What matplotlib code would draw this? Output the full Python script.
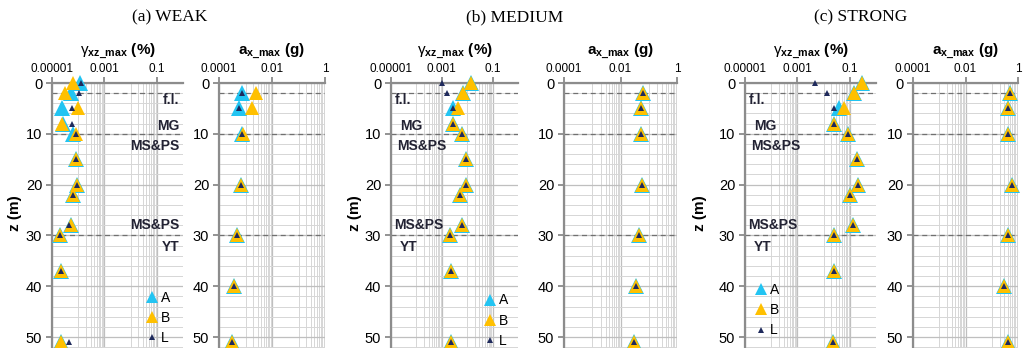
import matplotlib.pyplot as plt
import matplotlib.ticker as mticker
from matplotlib.lines import Line2D
from matplotlib.transforms import blended_transform_factory

plt.rcParams['font.family'] = ['Liberation Sans', 'DejaVu Sans']
plt.rcParams['mathtext.fontset'] = 'custom'
plt.rcParams['mathtext.rm'] = 'Liberation Sans'
plt.rcParams['mathtext.bf'] = 'Liberation Sans:bold'
plt.rcParams['mathtext.it'] = 'Liberation Sans:italic'

# depths (m)
z_strain = [0, 2, 5, 8, 10, 15, 20, 22, 28, 30, 37, 51]
z_acc = [2, 5, 10, 20, 30, 40, 51]

# max shear strain (%) - weak
weak_gA = [1.2e-4, 5.4e-5, 2.5e-5, 2.6e-5, 6.3e-5, 8.5e-5, 8.9e-5, 6.5e-5, 5.4e-5, 2.1e-5, 2.2e-5, 2.2e-5]
weak_gB = [6.2e-5, 3.0e-5, 9.8e-5, 2.5e-5, 7.9e-5, 8.5e-5, 8.9e-5, 6.5e-5, 5.4e-5, 2.1e-5, 2.2e-5, 2.2e-5]
weak_gL = [1.3e-4, 1.05e-4, 5.9e-5, 5.8e-5, 7.9e-5, 8.5e-5, 8.9e-5, 6.5e-5, 4.3e-5, 2.1e-5, 2.2e-5, 4.3e-5]
# max acceleration (g) - weak
weak_aA = [7.6e-4, 5.6e-4, 7.6e-4, 6.6e-4, 4.9e-4, 3.8e-4, 3.0e-4]
weak_aB = [2.5e-3, 1.7e-3, 8.3e-4, 6.6e-4, 4.9e-4, 3.8e-4, 3.0e-4]
weak_aL = [7.6e-4, 5.6e-4, 7.6e-4, 6.6e-4, 4.9e-4, 3.8e-4, 3.0e-4]

# medium
med_gA = [1.45e-2, 6.9e-3, 2.75e-3, 2.75e-3, 6.5e-3, 8.7e-3, 9.3e-3, 5.4e-3, 6.5e-3, 2.2e-3, 2.4e-3, 2.4e-3]
med_gB = [1.45e-2, 6.9e-3, 4.4e-3, 2.75e-3, 6.5e-3, 8.7e-3, 9.3e-3, 5.4e-3, 6.5e-3, 2.2e-3, 2.4e-3, 2.4e-3]
med_gL = [9.8e-4, 1.66e-3, 2.75e-3, 2.75e-3, 6.5e-3, 8.7e-3, 9.3e-3, 5.4e-3, 6.5e-3, 2.2e-3, 2.4e-3, 2.4e-3]
med_aA = [0.065, 0.054, 0.054, 0.056, 0.046, 0.035, 0.029]
med_aB = [0.065, 0.054, 0.054, 0.056, 0.046, 0.035, 0.029]
med_aL = [0.065, 0.054, 0.054, 0.056, 0.046, 0.035, 0.029]

# strong
str_gA = [0.30, 0.15, 0.039, 0.024, 0.089, 0.19, 0.20, 0.10, 0.135, 0.025, 0.025, 0.023]
str_gB = [0.30, 0.15, 0.060, 0.025, 0.089, 0.19, 0.20, 0.10, 0.135, 0.025, 0.025, 0.023]
str_gL = [0.0047, 0.0138, 0.025, 0.025, 0.089, 0.19, 0.20, 0.10, 0.135, 0.025, 0.025, 0.023]
str_aA = [0.50, 0.43, 0.43, 0.58, 0.41, 0.30, 0.43]
str_aB = [0.50, 0.43, 0.43, 0.58, 0.41, 0.30, 0.43]
str_aL = [0.50, 0.43, 0.43, 0.58, 0.41, 0.30, 0.43]

layer_z = [2, 10, 30]
titles = ['(a) WEAK', '(b) MEDIUM', '(c) STRONG']

cA = '#22C4F2'
cB = '#FFC000'
cL = '#1F2A5C'
txt_c = '#222233'

W, H = 1029, 348
fig = plt.figure(figsize=(W / 100, H / 100), dpi=100)

top_px = 83
ax_h = (H - top_px) / H
zmax = (H - top_px) / 5.08

strain_pos = [(52, 183), (391, 518), (745, 876)]
acc_pos = [(219, 325), (564, 677), (913, 1018)]

fmt_map = {1e-5: '0.00001', 1e-3: '0.001', 1e-1: '0.1', 1e-4: '0.0001', 1e-2: '0.01', 1.0: '1'}


def fmt(v, pos):
    for k, s in fmt_map.items():
        if abs(v - k) < k * 1e-6:
            return s
    return ''


def setup(ax, xmin, majors, minors, label):
    ax.set_xscale('log')
    ax.set_xlim(xmin, 1)
    ax.set_ylim(zmax, 0)
    ax.xaxis.tick_top()
    ax.xaxis.set_label_position('top')
    ax.xaxis.set_major_locator(mticker.FixedLocator(majors))
    ax.xaxis.set_minor_locator(mticker.FixedLocator(minors))
    ax.xaxis.set_major_formatter(mticker.FuncFormatter(fmt))
    ax.xaxis.set_minor_formatter(mticker.NullFormatter())
    ax.set_yticks([0, 10, 20, 30, 40, 50])
    ax.yaxis.set_minor_locator(mticker.MultipleLocator(2))
    ax.tick_params(axis='x', which='major', length=4, width=1.2, color='#808080',
                   labelsize=8.5, pad=2)
    ax.tick_params(axis='x', which='minor', length=0)
    ax.tick_params(axis='y', which='major', length=4, width=1.2, color='#808080',
                   labelsize=10.5, pad=3)
    ax.tick_params(axis='y', which='minor', length=0)
    ax.grid(True, which='major', color='#BFBFBF', lw=0.9)
    ax.grid(True, which='minor', color='#D6D6D6', lw=0.7)
    ax.set_axisbelow(True)
    for s in ['right', 'bottom']:
        ax.spines[s].set_visible(False)
    for s in ['left', 'top']:
        ax.spines[s].set_color('#8C8C8C')
        ax.spines[s].set_linewidth(1.6)
    for zz in layer_z:
        ax.axhline(zz, color='#707070', ls=(0, (4, 3)), lw=0.9, zorder=1.5)
    ax.set_xlabel(label, fontsize=11, fontweight='bold', labelpad=6)


strain_major = [1e-5, 1e-3, 1e-1]
strain_minor = [k * 1e-4 for k in range(1, 10)] + [k * 1e-2 for k in range(1, 10)] + [1.0]
acc_major = [1e-4, 1e-2, 1.0]
acc_minor = [k * 1e-3 for k in range(1, 10)] + [k * 1e-1 for k in range(1, 10)]

g_label = r'$\mathrm{\gamma}_{\mathbf{xz\_max}}$ (%)'
a_label = r'$\mathbf{a}_{\mathbf{x\_max}}$ (g)'

strain_sets = [(weak_gA, weak_gB, weak_gL), (med_gA, med_gB, med_gL), (str_gA, str_gB, str_gL)]
acc_sets = [(weak_aA, weak_aB, weak_aL), (med_aA, med_aB, med_aL), (str_aA, str_aB, str_aL)]

title_x = [170, 515, 861]
zlab_x = [15, 355, 700]

# layer labels: (text, z)
layer_txt = [('f.l.', 3.3), ('MG', 8.4), ('MS&PS', 12.4), ('MS&PS', 28.0), ('YT', 32.2)]

msA, msB, msL = 12, 9.5, 5

for i in range(3):
    x0, x1 = strain_pos[i]
    axg = fig.add_axes([x0 / W, 0, (x1 - x0) / W, ax_h])
    setup(axg, 1e-5, strain_major, strain_minor, g_label)
    gA, gB, gL = strain_sets[i]
    axg.plot(gA, z_strain, ls='none', marker='^', ms=msA, color=cA, mew=0, zorder=3, clip_on=False)
    axg.plot(gB, z_strain, ls='none', marker='^', ms=msB, color=cB, mew=0, zorder=4, clip_on=False)
    axg.plot(gL, z_strain, ls='none', marker='^', ms=msL, color=cL, mew=0, zorder=5, clip_on=False)

    x0, x1 = acc_pos[i]
    axa = fig.add_axes([x0 / W, 0, (x1 - x0) / W, ax_h])
    setup(axa, 1e-4, acc_major, acc_minor, a_label)
    aA, aB, aL = acc_sets[i]
    axa.plot(aA, z_acc, ls='none', marker='^', ms=msA, color=cA, mew=0, zorder=3, clip_on=False)
    axa.plot(aB, z_acc, ls='none', marker='^', ms=msB, color=cB, mew=0, zorder=4, clip_on=False)
    axa.plot(aL, z_acc, ls='none', marker='^', ms=msL, color=cL, mew=0, zorder=5, clip_on=False)

    # layer names
    tr = blended_transform_factory(axg.transAxes, axg.transData)
    for j, (t, zz) in enumerate(layer_txt):
        if i == 0:
            axg.text(0.975, zz, t, transform=tr, ha='right', va='center',
                     fontsize=10, fontweight='bold', color=txt_c, zorder=6)
        else:
            xo = [0.03, 0.07, 0.045, 0.025, 0.07][j]
            axg.text(xo, zz, t, transform=tr, ha='left', va='center',
                     fontsize=10, fontweight='bold', color=txt_c, zorder=6)

    handles = [Line2D([], [], ls='none', marker='^', ms=8, color=cA, mew=0),
               Line2D([], [], ls='none', marker='^', ms=8, color=cB, mew=0),
               Line2D([], [], ls='none', marker='^', ms=4.5, color=cL, mew=0)]
    kw = dict(frameon=False, fontsize=10, handlelength=0.8, handletextpad=0.25,
              labelspacing=0.45, borderpad=0, borderaxespad=0)
    if i == 0:
        axg.legend(handles, ['A', 'B', 'L'], loc='lower right', bbox_to_anchor=(0.905, 0.01), **kw)
    elif i == 1:
        axg.legend(handles, ['A', 'B', 'L'], loc='lower right', bbox_to_anchor=(0.92, 0.0), **kw)
    else:
        axg.legend(handles, ['A', 'B', 'L'], loc='lower left', bbox_to_anchor=(0.08, 0.04), **kw)

    fig.text(title_x[i] / W, 1 - 17 / H, titles[i], family=['Liberation Serif', 'DejaVu Serif'],
             fontsize=12.5, ha='center', va='center')
    fig.text(zlab_x[i] / W, 1 - 213 / H, 'z (m)', rotation=90, fontsize=11,
             fontweight='bold', ha='center', va='center')

fig.savefig('out.png', dpi=100)
